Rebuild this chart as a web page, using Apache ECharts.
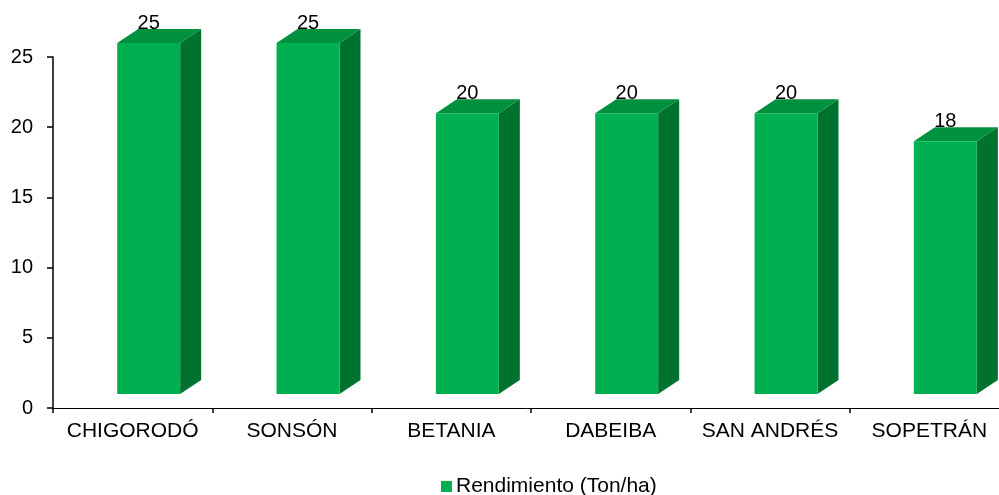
<!DOCTYPE html>
<html>
<head>
<meta charset="utf-8">
<script src="https://cdn.jsdelivr.net/npm/echarts@6/dist/echarts.min.js"></script>
<style>
  html, body { margin: 0; padding: 0; background: #fff; }
  #chart { width: 999px; height: 495px; }
</style>
</head>
<body>
<div id="chart"></div>
<script>
const municipios = ["CHIGORODÓ", "SONSÓN", "BETANIA", "DABEIBA", "SAN ANDRÉS", "SOPETRÁN"];
const rendimiento = [25, 25, 20, 20, 20, 18];
const yTicks = [0, 5, 10, 15, 20, 25];

const chart = echarts.init(document.getElementById("chart"));
const FONT = "Liberation Sans, Arial, sans-serif";

// caja 3D: cara frontal, lateral y superior
const renderBox = (params, api) => {
  const idx = api.value(0);
  const val = api.value(1);
  const bw = api.size([1, 0])[0];
  const base = api.coord([idx, 0]);
  const top = api.coord([idx, val]);
  const c = base[0];
  const lift = 14;
  const x0 = c - 0.097 * bw;
  const x1 = c + 0.298 * bw;
  const dx = 0.132 * bw;
  const dy = 14;
  const yb = base[1] - lift;
  const yt = top[1] - lift;
  return {
    type: "group",
    children: [
      {
        type: "polygon",
        shape: { points: [[x1, yb], [x1 + dx, yb - dy], [x1 + dx, yt - dy], [x1, yt]] },
        style: { fill: "#00722f" },
      },
      {
        type: "polygon",
        shape: { points: [[x0, yt], [x1, yt], [x1 + dx, yt - dy], [x0 + dx, yt - dy]] },
        style: { fill: "#00913f" },
      },
      {
        type: "rect",
        shape: { x: x0, y: yt, width: x1 - x0, height: yb - yt },
        style: { fill: "#00b050" },
      },
      {
        type: "text",
        style: {
          text: String(val),
          x: c + 16,
          y: top[1] - 34,
          align: "center",
          verticalAlign: "middle",
          fill: "#000",
          font: "20px " + FONT,
        },
      },
    ],
  };
};

const option = {
  animation: false,
  textStyle: { fontFamily: FONT },
  grid: { left: 53, width: 956, top: 57, bottom: 87, outerBoundsMode: "none", containLabel: false },
  legend: {
    data: [{ name: "Rendimiento (Ton/ha)", icon: "rect" }],
    left: 436,
    top: 471,
    itemWidth: 11,
    itemHeight: 11,
    itemGap: 4,
    textStyle: { color: "#000", fontSize: 21, fontFamily: FONT, padding: [0, 0, 0, -1] },
  },
  xAxis: {
    type: "category",
    data: municipios,
    axisLine: { lineStyle: { color: "#000", width: 1 } },
    axisTick: { show: true, length: 5, lineStyle: { color: "#000", width: 1.5 } },
    axisLabel: { color: "#000", fontSize: 21, margin: 13, fontFamily: FONT, interval: 0 },
  },
  yAxis: {
    type: "value",
    min: 0,
    max: 25,
    interval: 5,
    splitLine: { show: false },
    axisLine: { show: true, lineStyle: { color: "#000", width: 1.5 } },
    axisTick: { show: true, length: 6, lineStyle: { color: "#000", width: 1.5 } },
    axisLabel: {
      color: "#000",
      fontSize: 20,
      margin: 20,
      fontFamily: FONT,
      formatter: (v) => (yTicks.includes(v) ? String(v) : ""),
    },
  },
  series: [
    {
      name: "Rendimiento (Ton/ha)",
      type: "custom",
      renderItem: renderBox,
      itemStyle: { color: "#00b050" },
      encode: { x: 0, y: 1 },
      data: rendimiento.map((v, i) => [i, v]),
      z: 3,
    },
  ],
};

chart.setOption(option);
</script>
</body>
</html>
